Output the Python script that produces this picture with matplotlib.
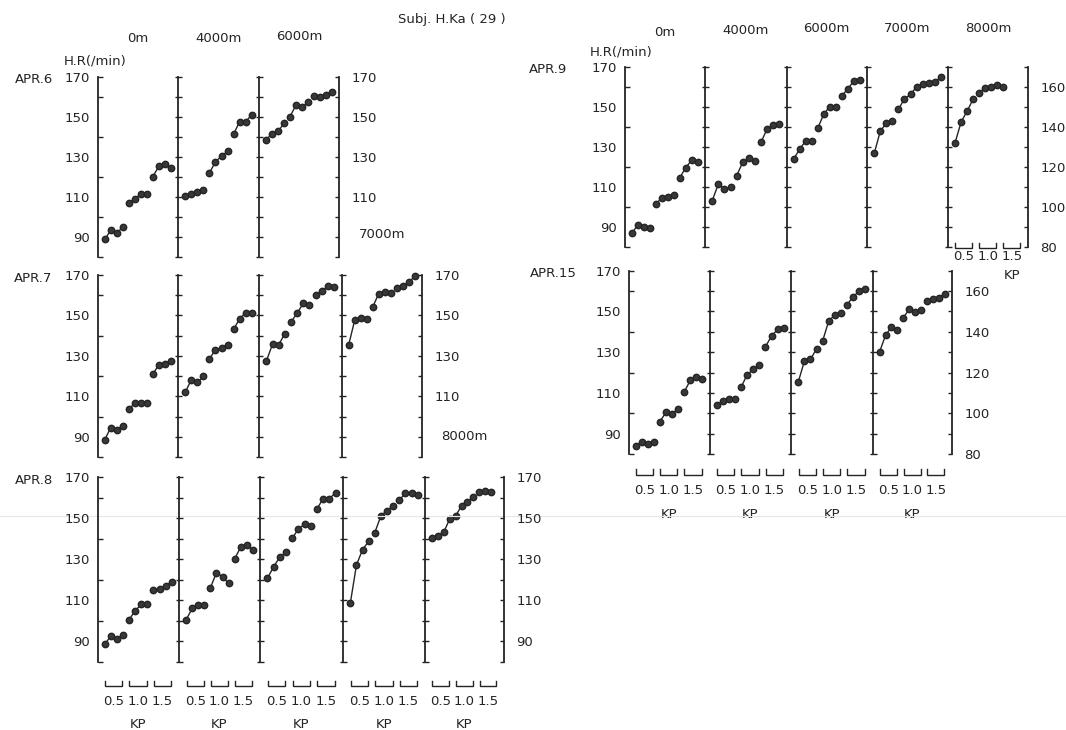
import numpy as np
import matplotlib
matplotlib.use("Agg")
import matplotlib.pyplot as plt
from matplotlib.ticker import FixedLocator, NullFormatter
import matplotlib.transforms as mtransforms
from matplotlib.lines import Line2D

# ------------------------------------------------------------------ data
title = "Subj. H.Ka ( 29 )"
altitudes = ["0m", "4000m", "6000m", "7000m", "8000m"]
kp_labels = ["0.5", "1.0", "1.5"]
hr_label = "H.R(/min)"
nan = np.nan

# heart rate (/min), 4 readings per KP level (0.5, 1.0, 1.5)
apr6_0m    = [88.8, 93.5, 91.7, 95.0, 106.8, 109.0, 111.2, 111.2, 120.0, 125.2, 126.5, 124.3]
apr6_4000m = [110.3, 111.4, 112.3, 113.3, 121.8, 127.3, 130.2, 132.6, 141.2, 147.5, 147.3, 151.0]
apr6_6000m = [138.4, 141.5, 142.6, 146.6, 150.0, 155.8, 154.6, 157.1, 160.2, 159.7, 161.0, 162.1]

apr7_0m    = [88.5, 94.5, 93.5, 95.5, 103.5, 106.7, 106.7, 106.7, 121.0, 125.5, 126.0, 127.5]
apr7_4000m = [112.0, 118.2, 116.9, 119.9, 128.5, 133.1, 133.8, 135.5, 143.1, 148.4, 151.4, 151.4]
apr7_6000m = [127.5, 135.8, 135.5, 141.0, 146.7, 151.2, 156.0, 155.0, 160.0, 162.2, 164.4, 164.0]
apr7_7000m = [135.5, 147.7, 148.7, 148.0, 154.2, 160.8, 161.6, 161.2, 163.6, 164.6, 166.5, 169.3]

apr8_0m    = [88.6, 92.7, 91.4, 93.0, 100.6, 105.0, 108.0, 108.0, 114.9, 115.7, 117.0, 119.0]
apr8_4000m = [100.6, 106.2, 107.5, 107.5, 116.1, 123.5, 121.5, 118.2, 130.2, 135.8, 136.8, 134.6]
apr8_6000m = [120.7, 126.4, 131.0, 133.3, 140.1, 144.8, 147.0, 146.2, 154.5, 159.5, 159.5, 162.3]
apr8_7000m = [108.7, 127.2, 134.7, 138.7, 143.0, 151.1, 153.7, 156.0, 158.8, 162.1, 162.1, 161.4]
apr8_8000m = [140.3, 141.2, 143.3, 149.6, 151.1, 156.0, 158.0, 160.1, 162.7, 163.1, 162.7, nan]

apr9_0m    = [86.9, 91.1, 90.3, 89.4, 101.4, 104.7, 105.2, 106.0, 114.7, 119.7, 123.5, 122.7]
apr9_4000m = [103.3, 111.6, 109.0, 110.0, 115.7, 122.3, 124.3, 123.0, 132.3, 138.9, 140.9, 141.3]
apr9_6000m = [124.0, 129.0, 133.0, 133.0, 139.3, 146.4, 150.1, 150.1, 155.5, 158.9, 162.9, 163.4]
apr9_7000m = [126.8, 137.9, 141.8, 142.9, 148.9, 153.9, 156.2, 160.0, 161.2, 161.7, 162.5, 164.7]
apr9_8000m = [132.2, 142.5, 147.8, 153.8, 157.1, 159.4, 160.1, 161.1, 159.9, nan, nan, nan]

apr15_0m    = [83.8, 86.1, 84.8, 86.1, 95.9, 100.5, 99.7, 102.1, 110.3, 116.1, 117.7, 116.9]
apr15_4000m = [104.0, 106.0, 106.8, 106.8, 112.8, 119.0, 121.5, 123.9, 132.7, 137.9, 141.2, 142.0]
apr15_6000m = [115.4, 125.6, 126.4, 131.7, 135.5, 145.3, 148.3, 149.4, 153.2, 157.3, 159.8, 161.0]
apr15_7000m = [130.2, 138.3, 142.4, 140.7, 147.0, 151.1, 149.9, 150.6, 155.2, 156.3, 156.8, 158.8]

left_ticks = [90, 110, 130, 150, 170]
right_ticks_170 = [110, 130, 150, 170]
right_ticks_90 = [90, 110, 130, 150, 170]
right_ticks_80 = [80, 100, 120, 140, 160]

# ------------------------------------------------------------------ layout (pixels)
W, H = 1066, 730
ink = "#242424"
FS = 9.5
PT = 0.72  # points per pixel at 100 dpi

rows = [
    dict(day="APR.6", panels=[apr6_0m, apr6_4000m, apr6_6000m],
         edges=[98, 178, 259, 339], ytop=76.5, ybot=256.5, day_x=53,
         right=right_ticks_170, kp=None),
    dict(day="APR.7", panels=[apr7_0m, apr7_4000m, apr7_6000m, apr7_7000m],
         edges=[97.5, 178, 259, 341.5, 422], ytop=275, ybot=457, day_x=52,
         right=right_ticks_170, kp=None),
    dict(day="APR.8", panels=[apr8_0m, apr8_4000m, apr8_6000m, apr8_7000m, apr8_8000m],
         edges=[97.5, 179, 260, 343, 425, 504], ytop=477, ybot=662, day_x=53,
         right=right_ticks_90, kp=(18.7, 24.0, 39.7, 62.0)),
    dict(day="APR.9", panels=[apr9_0m, apr9_4000m, apr9_6000m, apr9_7000m, apr9_8000m],
         edges=[624.5, 705, 786.5, 867, 948, 1028], ytop=66.7, ybot=247.3, day_x=567,
         right=right_ticks_80, kp=None),
    dict(day="APR.15", panels=[apr15_0m, apr15_4000m, apr15_6000m, apr15_7000m],
         edges=[628.5, 709.5, 791, 872.5, 952], ytop=270.7, ybot=454, day_x=577,
         right=right_ticks_80, kp=(15.0, 21.0, 37.0, 61.0)),
]

fig = plt.figure(figsize=(W / 100, H / 100), dpi=100)
fig.patch.set_facecolor("white")


def fy(ypx):
    return 1 - ypx / H


def px_axes(x0, x1, ytop, ybot):
    return fig.add_axes([x0 / W, fy(ybot), (x1 - x0) / W, (ybot - ytop) / H])


slot_x = (np.arange(12) + 1.2) / 13.4
all_tens = list(range(80, 171, 10))


def vaxis(x, ytop, ybot, kind, labels=None):
    """A vertical HR scale: a 2-px-wide axes whose left spine sits at pixel column x."""
    a = fig.add_axes([x / W, fy(ybot), 2 / W, (ybot - ytop) / H])
    a.set_ylim(80, 170)
    a.set_xticks([])
    a.patch.set_alpha(0)
    a.set_zorder(5)
    for s in a.spines.values():
        s.set_visible(False)
    a.spines["left"].set_visible(True)
    a.spines["left"].set_linewidth(1.3)
    a.spines["left"].set_color(ink)
    a.yaxis.remove_overlapping_locs = False
    a.yaxis.set_ticks_position("left")
    if kind == "left":
        a.yaxis.set_major_locator(FixedLocator(labels))
        a.yaxis.set_minor_locator(FixedLocator([80, 100, 120, 140, 160, 170]))
        a.yaxis.set_minor_formatter(NullFormatter())
        a.tick_params(axis="y", which="major", length=0, pad=8 * PT,
                      labelsize=FS, labelcolor=ink)
        a.tick_params(axis="y", which="minor", direction="in", length=4.5 * PT,
                      width=1.0, color=ink)
    elif kind == "divider":
        a.yaxis.set_major_locator(FixedLocator(all_tens))
        a.yaxis.set_major_formatter(NullFormatter())
        a.tick_params(axis="y", which="major", direction="inout", length=7 * PT,
                      width=1.0, color=ink)
    else:  # right scale: ticks point back into the panel, labels to the right
        a.yaxis.set_major_locator(FixedLocator(labels))
        a.yaxis.set_minor_locator(FixedLocator([t for t in all_tens if t not in labels]))
        a.yaxis.set_minor_formatter(NullFormatter())
        a.tick_params(axis="y", which="both", direction="out", length=4.5 * PT,
                      width=1.0, color=ink, pad=6 * PT, labelsize=FS, labelcolor=ink,
                      left=True, right=False, labelleft=False, labelright=True)
    return a


def draw_kp(ax, ybot, top_off, bot_off, lab_off, kp_off, kp_x=0.5):
    tr = mtransforms.blended_transform_factory(ax.transData, fig.transFigure)
    for g in range(3):
        xa = (4 * g + 1.25) / 13.4
        xb = (4 * g + 4.1) / 13.4
        ax.plot([xa, xa, xb, xb], [fy(ybot + top_off), fy(ybot + bot_off),
                                   fy(ybot + bot_off), fy(ybot + top_off)],
                color=ink, lw=1.0, transform=tr, clip_on=False, solid_joinstyle="miter")
        ax.text((xa + xb) / 2, fy(ybot + lab_off), kp_labels[g], transform=tr,
                ha="center", va="center", fontsize=FS, color=ink)
    ax.text(kp_x, fy(ybot + kp_off), "KP", transform=tr, ha="center", va="center",
            fontsize=FS, color=ink)


for row in rows:
    edges = row["edges"]
    n = len(row["panels"])
    for p, vals in enumerate(row["panels"]):
        ax = px_axes(edges[p], edges[p + 1], row["ytop"], row["ybot"])
        ax.set_xlim(0, 1)
        ax.set_ylim(80, 170)
        ax.patch.set_alpha(0)
        for s in ax.spines.values():
            s.set_visible(False)
        ax.set_xticks([])
        ax.set_yticks([])
        v = np.asarray(vals, dtype=float)
        for g in range(3):
            sl = slice(4 * g, 4 * g + 4)
            ax.plot(slot_x[sl], v[sl], "-o", color=ink, lw=1.0, ms=4.6,
                    mec=ink, mfc="#383838", clip_on=False)
        if row["kp"] is not None:
            t, b, l, k = row["kp"]
            draw_kp(ax, row["ybot"], t, b, l, k)
        if row["day"] == "APR.9" and p == n - 1:
            # KP scale drawn inside the last (8000m) panel
            draw_kp(ax, row["ybot"], -4.3, 0.7, 9.4, 28.4,
                    kp_x=(8 + 1.25 + 8 + 4.1) / 2 / 13.4)

    vaxis(edges[0], row["ytop"], row["ybot"], "left", left_ticks)
    for x in edges[1:-1]:
        vaxis(x, row["ytop"], row["ybot"], "divider")
    vaxis(edges[-1], row["ytop"], row["ybot"], "right", row["right"])

    fig.text(row["day_x"] / W, fy(row["ytop"] + 3), row["day"], ha="right", va="center",
             fontsize=FS, color=ink)

# altitude headers
r6, r7, r8, r9 = rows[0], rows[1], rows[2], rows[3]
for i, yy in zip(range(3), [39, 38, 36]):
    xc = (r6["edges"][i] + r6["edges"][i + 1]) / 2
    fig.text(xc / W, fy(yy), altitudes[i], ha="center", va="center", fontsize=FS, color=ink)
for i, yy in zip(range(5), [32, 30, 29, 28, 28]):
    xc = (r9["edges"][i] + r9["edges"][i + 1]) / 2
    fig.text(xc / W, fy(yy), altitudes[i], ha="center", va="center", fontsize=FS, color=ink)
fig.text(((r7["edges"][3] + r7["edges"][4]) / 2) / W, fy(234), altitudes[3],
         ha="center", va="center", fontsize=FS, color=ink)
fig.text(((r8["edges"][4] + r8["edges"][5]) / 2) / W, fy(436), altitudes[4],
         ha="center", va="center", fontsize=FS, color=ink)

fig.text(95 / W, fy(61), hr_label, ha="center", va="center", fontsize=9.5, color=ink)
fig.text(621 / W, fy(52), hr_label, ha="center", va="center", fontsize=9.5, color=ink)
fig.text(452 / W, fy(20), title, ha="center", va="center", fontsize=9.5, color=ink)

# faint scan line across the page
fig.add_artist(Line2D([0, 1], [fy(516), fy(516)], color="#e6e6e6", lw=0.8))

fig.savefig("out.png", dpi=100, facecolor="white")
